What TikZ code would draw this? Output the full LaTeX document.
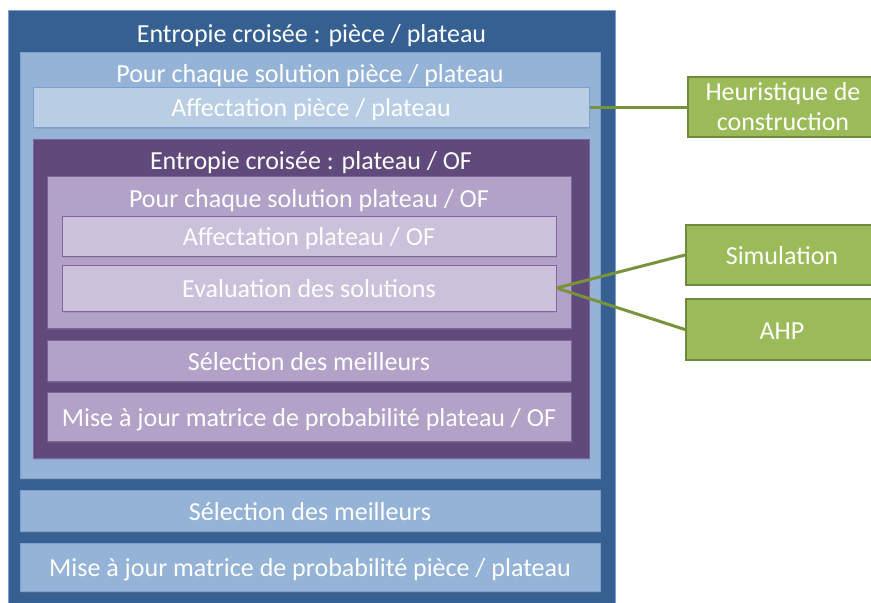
\documentclass[tikz,border=0pt]{standalone}
\usepackage{fontspec}
\setmainfont{Carlito}
\usetikzlibrary{shadows}
\definecolor{deepblue}{HTML}{366092}
\definecolor{midblue}{HTML}{95B3D7}
\definecolor{paleblue}{HTML}{B9CDE5}
\definecolor{edgeblue}{HTML}{4F81BD}
\definecolor{deeppurple}{HTML}{604A7B}
\definecolor{midpurple}{HTML}{B3A2C7}
\definecolor{palepurple}{HTML}{CCC1DA}
\definecolor{edgepurple}{HTML}{8064A2}
\definecolor{leaf}{HTML}{9BBB59}
\definecolor{leafedge}{HTML}{71893F}
\definecolor{leaflink}{HTML}{77933C}
\tikzset{
  size/.style 2 args={minimum width=#1pt, minimum height=#2pt},
  frame/.style={inner sep=0pt, line width=1pt,
    drop shadow={shadow xshift=1pt, shadow yshift=-1.5pt, opacity=0.3}},
  bluebox/.style={frame, fill=#1, draw=edgeblue!75},
  purplebox/.style={frame, fill=#1, draw=edgepurple},
  lab/.style={text=white, font=\fontsize{26}{30}\selectfont, text height=19.5pt, text depth=0pt},
  tool/.style={fill=leaf, draw=leafedge, line width=2pt, inner sep=0pt, lab, align=center},
  link/.style={draw=leaflink, line width=3pt},
}

\begin{document}
\begin{tikzpicture}[x=1pt,y=-1pt]
  \useasboundingbox (0,0) rectangle (871,603);
  % outer loop: piece / plateau
  \node[bluebox=deepblue, size={607}{593}] (outer) at (311.5,306.5) {};
  \node[lab] (outerT) at (311.5,33) {Entropie croisée : pièce / plateau};
  \node[bluebox=midblue, size={580}{426}] (solPP) at (310,265) {};
  \node[lab] (solPPT) at (310,73) {Pour chaque solution pièce / plateau};
  \node[bluebox=paleblue, size={556}{40}, lab] (affPP) at (311,107) {Affectation pièce / plateau};

  % inner loop: plateau / OF
  \node[purplebox=deeppurple, size={556}{319}] (inner) at (311,298.5) {};
  \node[lab] (innerT) at (311,160) {Entropie croisée : plateau / OF};
  \node[purplebox=midpurple, size={524}{152}] (solPO) at (309,252) {};
  \node[lab] (solPOT) at (309,198) {Pour chaque solution plateau / OF};
  \node[purplebox=palepurple, size={494}{40}, lab] (affPO) at (309,236) {Affectation plateau / OF};
  \node[purplebox=palepurple, size={494}{46}, lab] (eval) at (309,288) {Evaluation des solutions};
  \node[purplebox=midpurple, size={524}{41}, lab] (selPO) at (309,360.5) {Sélection des meilleurs};
  \node[purplebox=midpurple, size={524}{49}, lab] (majPO) at (309,416.5) {Mise à jour matrice de probabilité plateau / OF};

  % back in the outer loop
  \node[bluebox=midblue, size={580}{41}, lab] (selPP) at (310,510.5) {Sélection des meilleurs};
  \node[bluebox=midblue, size={580}{48}, lab] (majPP) at (310,567) {Mise à jour matrice de probabilité pièce / plateau};

  % tools (right)
  \node[tool, size={190}{60}, text height={}, text depth={}] (heur) at (783,107) {Heuristique de\\construction};
  \node[tool, size={192}{60}] (sim) at (782,255) {Simulation};
  \node[tool, size={192}{61}] (ahp) at (782,329.5) {AHP};

  \draw[link] (affPP.east) -- (heur.west);
  \draw[link] (eval.east) -- (sim.west);
  \draw[link] (eval.east) -- (ahp.west);
\end{tikzpicture}
\end{document}
